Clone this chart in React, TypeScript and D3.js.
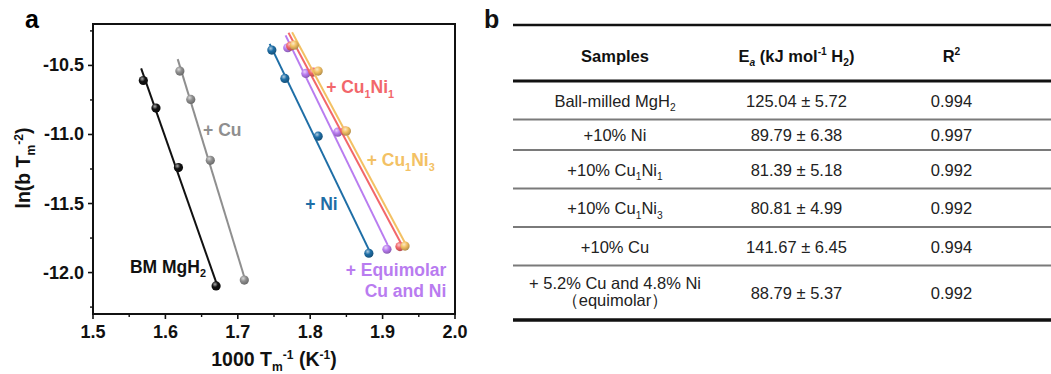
import React from 'react';
import * as d3 from 'd3';

// panel a: Kissinger plot points (1000/Tm, ln(b/Tm^2))
const bmMgH2X = [1.5695, 1.587, 1.618, 1.670];
const bmMgH2Y = [-10.609, -10.809, -11.240, -12.097];
const cuX = [1.620, 1.635, 1.662, 1.709];
const cuY = [-10.541, -10.746, -11.187, -12.054];
const niX = [1.747, 1.765, 1.811, 1.881];
const niY = [-10.389, -10.594, -11.012, -11.860];
const equiX = [1.769, 1.794, 1.838, 1.906];
const equiY = [-10.372, -10.558, -10.983, -11.831];
const cu1ni1X = [1.773, 1.804, 1.848, 1.924];
const cu1ni1Y = [-10.360, -10.548, -10.975, -11.812];
const cu1ni3X = [1.778, 1.811, 1.850, 1.931];
const cu1ni3Y = [-10.353, -10.541, -10.975, -11.808];

const xTicks = [1.5, 1.6, 1.7, 1.8, 1.9, 2.0];
const yTicks = [-10.5, -11.0, -11.5, -12.0];

// panel b: table
const headers = ['Samples', 'E_i{a} (kJ mol^{-1} H_{2})', 'R^{2}'];
const samples = [
  'Ball-milled  MgH_{2}',
  '+10% Ni',
  '+10% Cu_{1}Ni_{1}',
  '+10% Cu_{1}Ni_{3}',
  '+10% Cu',
  '+ 5.2% Cu and 4.8% Ni|（equimolar）',
];
const eaValues = [125.04, 89.79, 81.39, 80.81, 141.67, 88.79];
const eaErrors = [5.72, 6.38, 5.18, 4.99, 6.45, 5.37];
const r2Values = [0.994, 0.997, 0.992, 0.992, 0.994, 0.992];

const series = [
  { name: 'BM MgH_{2}', xs: bmMgH2X, ys: bmMgH2Y, color: '#111111', lx: 1.551, ly: -12.0, anchor: 'start', label2: '' },
  { name: '+ Cu', xs: cuX, ys: cuY, color: '#8f8f8f', lx: 1.652, ly: -11.01, anchor: 'start', label2: '' },
  { name: '+ Ni', xs: niX, ys: niY, color: '#1e6ea6', lx: 1.793, ly: -11.547, anchor: 'start', label2: '' },
  { name: '+ Equimolar', xs: equiX, ys: equiY, color: '#b97cf0', lx: 1.988, ly: -12.024, anchor: 'end', label2: 'Cu and Ni' },
  { name: '+ Cu_{1}Ni_{1}', xs: cu1ni1X, ys: cu1ni1Y, color: '#f2676b', lx: 1.822, ly: -10.703, anchor: 'start', label2: '' },
  { name: '+ Cu_{1}Ni_{3}', xs: cu1ni3X, ys: cu1ni3Y, color: '#f3c164', lx: 1.878, ly: -11.229, anchor: 'start', label2: '' },
];

const FONT = "'Liberation Sans', Arial, sans-serif";

function rich(str: string, size: number) {
  const parts: React.ReactNode[] = [];
  const re = /(_i|_|\^)\{([^}]*)\}/g;
  let last = 0;
  let shift = 0;
  let k = 0;
  let m: RegExpExecArray | null;
  while ((m = re.exec(str))) {
    if (m.index > last) {
      parts.push(<tspan key={k++} dy={-shift}>{str.slice(last, m.index)}</tspan>);
      shift = 0;
    }
    const d = m[1] === '^' ? -size * 0.38 : size * 0.28;
    parts.push(
      <tspan key={k++} dy={d - shift} fontSize={size * 0.62} fontStyle={m[1] === '_i' ? 'italic' : undefined}>
        {m[2]}
      </tspan>
    );
    shift = d;
    last = re.lastIndex;
  }
  if (last < str.length) parts.push(<tspan key={k++} dy={-shift}>{str.slice(last)}</tspan>);
  return parts;
}

function fit(xs: number[], ys: number[]) {
  const mx = d3.mean(xs)!;
  const my = d3.mean(ys)!;
  const sxy = d3.sum(xs, (x, i) => (x - mx) * (ys[i] - my));
  const sxx = d3.sum(xs, (x) => (x - mx) * (x - mx));
  const slope = sxy / sxx;
  return (x: number) => my + slope * (x - mx);
}

const KissingerPlot = () => {
  const x = d3.scaleLinear().domain([1.5, 2.0]).range([93, 455]);
  const y = d3.scaleLinear().domain([-12.3, -10.2]).range([314, 24]);
  const minorX = d3.range(1.55, 2.0, 0.1);
  const minorY = [-10.25, -10.75, -11.25, -11.75, -12.25];
  const line = d3.line<number[]>().x((d) => x(d[0])).y((d) => y(d[1]));

  return (
    <g fontFamily={FONT} fontWeight="bold">
      <defs>
        {series.map((s, i) => (
          <radialGradient key={i} id={`ball${i}`} cx="0.38" cy="0.32" r="0.7">
            <stop offset="0%" stopColor={d3.interpolateRgb(s.color, '#ffffff')(0.65)} />
            <stop offset="45%" stopColor={s.color} />
            <stop offset="100%" stopColor={d3.color(s.color)!.darker(0.9).toString()} />
          </radialGradient>
        ))}
      </defs>
      <text x={25} y={28} fontSize={25}>a</text>

      {/* fit lines and points */}
      {series.map((s, i) => {
        const f = fit(s.xs, s.ys);
        const x0 = d3.min(s.xs)! - 0.003;
        const x1 = d3.max(s.xs)! + 0.001;
        return (
          <g key={i}>
            <path d={line([[x0, f(x0)], [x1, f(x1)]])!} stroke={s.color} strokeWidth={2} fill="none" />
            {s.xs.map((v, j) => (
              <circle key={j} cx={x(v)} cy={y(s.ys[j])} r={4.6} fill={`url(#ball${i})`} />
            ))}
          </g>
        );
      })}

      {/* series labels */}
      {series.map((s, i) => (
        <g key={i} fill={s.color} fontSize={17.5}>
          <text x={x(s.lx)} y={y(s.ly)} textAnchor={s.anchor}>{rich(s.name, 17.5)}</text>
          {s.label2 && (
            <text x={x(s.lx)} y={y(s.ly) + 21.5} textAnchor={s.anchor}>{s.label2}</text>
          )}
        </g>
      ))}

      {/* frame */}
      <rect x={x(1.5)} y={y(-10.2)} width={x(2.0) - x(1.5)} height={y(-12.3) - y(-10.2)} fill="none" stroke="#111" strokeWidth={2} />

      {/* x axis */}
      {xTicks.map((t) => (
        <g key={t}>
          <line x1={x(t)} x2={x(t)} y1={y(-12.3)} y2={y(-12.3) + 5} stroke="#111" strokeWidth={1.6} />
          <text x={x(t)} y={y(-12.3) + 24} textAnchor="middle" fontSize={18} fill="#111">{t.toFixed(1)}</text>
        </g>
      ))}
      {minorX.map((t) => (
        <line key={t} x1={x(t)} x2={x(t)} y1={y(-12.3)} y2={y(-12.3) + 3} stroke="#111" strokeWidth={1.4} />
      ))}
      <text x={(x(1.5) + x(2.0)) / 2} y={366} textAnchor="middle" fontSize={19.5} fill="#111">
        {rich('1000 T_{m}^{-1} (K^{-1})', 19.5)}
      </text>

      {/* y axis */}
      {yTicks.map((t) => (
        <g key={t}>
          <line x1={x(1.5) - 5} x2={x(1.5)} y1={y(t)} y2={y(t)} stroke="#111" strokeWidth={1.6} />
          <text x={x(1.5) - 9} y={y(t) + 6} textAnchor="end" fontSize={18} fill="#111">{t.toFixed(1)}</text>
        </g>
      ))}
      {minorY.map((t) => (
        <line key={t} x1={x(1.5) - 3} x2={x(1.5)} y1={y(t)} y2={y(t)} stroke="#111" strokeWidth={1.4} />
      ))}
      <text transform="translate(30,168) rotate(-90)" textAnchor="middle" fontSize={19.5} fill="#111">
        {rich('ln(b T_{m}^{-2})', 19.5)}
      </text>
    </g>
  );
};

// table layout
const tableLeft = 513;
const tableRight = 1051;
const tableTop = 25;
const headerBottom = 81;
const rowHeights = [38.5, 30.5, 38.5, 38.5, 38.5, 54.5];
const colCenters = [615, 796.5, 951.5];

const ResultsTable = () => {
  const bounds = [headerBottom, ...Array.from(d3.cumsum(rowHeights), (v) => headerBottom + v)];
  const size = 16.5;
  return (
    <g fontFamily={FONT} fill="#222">
      <text x={484} y={28} fontSize={25} fontWeight="bold" fill="#111">b</text>
      <line x1={tableLeft} x2={tableRight} y1={tableTop} y2={tableTop} stroke="#111" strokeWidth={2.5} />
      <line x1={tableLeft} x2={tableRight} y1={headerBottom} y2={headerBottom} stroke="#111" strokeWidth={3} />
      {bounds.slice(1, -1).map((b) => (
        <line key={b} x1={tableLeft} x2={tableRight} y1={b} y2={b} stroke="#7a7a7a" strokeWidth={2} />
      ))}
      <line x1={tableLeft} x2={tableRight} y1={bounds[bounds.length - 1]} y2={bounds[bounds.length - 1]} stroke="#111" strokeWidth={3.5} />

      {headers.map((h, i) => (
        <text key={i} x={colCenters[i]} y={(tableTop + headerBottom) / 2 + 8.5} textAnchor="middle" fontSize={16.5} fontWeight="bold" fill="#111">
          {rich(h, 16.5)}
        </text>
      ))}

      {samples.map((s, i) => {
        const mid = (bounds[i] + bounds[i + 1]) / 2;
        const lines = s.split('|');
        return (
          <g key={i} fontSize={size}>
            {lines.length === 1 ? (
              <text x={colCenters[0]} y={mid + 6.5} textAnchor="middle">{rich(s, size)}</text>
            ) : (
              lines.map((l, j) => (
                <text key={j} x={colCenters[0]} y={mid - 3.5 + j * 17} textAnchor="middle">{rich(l, size)}</text>
              ))
            )}
            <text x={colCenters[1]} y={mid + 6.5} textAnchor="middle">
              {`${eaValues[i].toFixed(2)} ± ${eaErrors[i].toFixed(2)}`}
            </text>
            <text x={colCenters[2]} y={mid + 6.5} textAnchor="middle">{r2Values[i].toFixed(3)}</text>
          </g>
        );
      })}
    </g>
  );
};

export default function App() {
  return (
    <svg width={1051} height={374} style={{ position: 'absolute', left: 0, top: 0, background: '#fff' }}>
      <KissingerPlot />
      <ResultsTable />
    </svg>
  );
}
